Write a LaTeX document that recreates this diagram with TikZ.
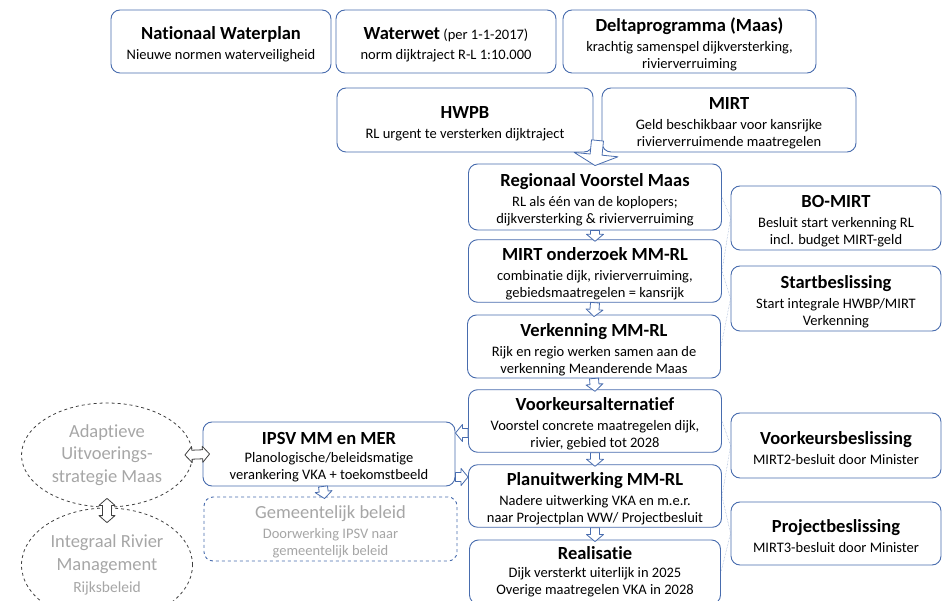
\documentclass[tikz,border=0pt]{standalone}
\usepackage{fontspec}
\setmainfont{Carlito}[Ligatures={TeX,NoCommon}]
\usetikzlibrary{shapes.geometric,calc}
\definecolor{blauw}{RGB}{72,108,174}
\definecolor{grijs}{RGB}{166,166,166}
\definecolor{donker}{RGB}{64,64,64}
\newcommand\titel{\bfseries\fontsize{18.5}{20}\selectfont\rule{0pt}{19pt}}
\newcommand\kop{\fontsize{18.5}{20}\selectfont\rule{0pt}{19pt}}

\tikzset{
	pijl/.style n args={3}{draw=blauw, fill=white, line width=0.8pt, to path={
		let \p1=(\tikztostart), \p2=(\tikztotarget), \p3=($(\p2)!#3!(\p1)$) in
		($(\p1)!#1!90:(\p2)$) -- ($(\p3)!#1!90:(\p2)$) -- ($(\p3)!#2!90:(\p2)$) -- (\p2)
		-- ($(\p3)!#2!-90:(\p2)$) -- ($(\p3)!#1!-90:(\p2)$) -- ($(\p1)!#1!-90:(\p2)$) -- cycle}},
	dubbelpijl/.style n args={3}{draw=blauw, fill=white, line width=0.8pt, to path={
		let \p1=(\tikztostart), \p2=(\tikztotarget), \p3=($(\p1)!#3!(\p2)$), \p4=($(\p2)!#3!(\p1)$) in
		(\p1) -- ($(\p3)!#2!90:(\p2)$) -- ($(\p3)!#1!90:(\p2)$) -- ($(\p4)!#1!90:(\p2)$)
		-- ($(\p4)!#2!90:(\p2)$) -- (\p2) -- ($(\p4)!#2!-90:(\p2)$) -- ($(\p4)!#1!-90:(\p2)$)
		-- ($(\p3)!#1!-90:(\p2)$) -- ($(\p3)!#2!-90:(\p2)$) -- cycle}},
	blok/.style={pijl={4.5pt}{8.5pt}{7pt}},
	blokgroot/.style={pijl={6pt}{22pt}{11pt}},
}

\begin{document}
\begin{tikzpicture}[x=1pt,y=-1pt,line join=round,
	vak/.style={draw=blauw, rounded corners=9pt, line width=0.9pt, fill=white, align=center,
		inner sep=2pt, font=\fontsize{14.5}{17}\selectfont},
	grijsvak/.style={vak, dashed, text=grijs},
	ovaal/.style={ellipse, draw=donker, dashed, line width=0.8pt, align=center, text=grijs,
		minimum width=171pt, minimum height=104pt, inner sep=0pt, font=\fontsize{18.5}{22.5}\selectfont},
	tweezijdig/.style={dubbelpijl={4.5pt}{8pt}{7pt}, draw=donker},
	stip/.style={draw=blauw!60, densely dotted, line width=0.5pt}]
	\useasboundingbox (0,0) rectangle (948,601);
	\clip (0,0) rectangle (948,601);
	% bovenste rij
	\node[vak, minimum width=220pt, minimum height=63pt] (nwp) at (221,41.5)
		{{\titel Nationaal Waterplan}\\[3pt] Nieuwe normen waterveiligheid};
	\node[vak, minimum width=220pt, minimum height=63pt] (ww) at (446,41.5)
		{{\titel Waterwet} (per 1-1-2017)\\[3pt] norm dijktraject R-L 1:10.000};
	\node[vak, minimum width=253pt, minimum height=63pt] (dp) at (689.5,41.5)
		{{\titel Deltaprogramma (Maas)}\\[3pt] krachtig samenspel dijkversterking,\\ rivierverruiming};
	\node[vak, minimum width=256pt, minimum height=64pt] (hwpb) at (465,120)
		{{\titel HWPB}\\[3pt] RL urgent te versterken dijktraject};
	\node[vak, minimum width=254pt, minimum height=64pt] (mirt) at (729,120)
		{{\titel MIRT}\\[3pt] Geld beschikbaar voor kansrijke\\ rivierverruimende maatregelen};
	% middelste kolom
	\node[vak, minimum width=253pt, minimum height=66pt] (rvm) at (595,197)
		{{\titel Regionaal Voorstel Maas}\\[3pt] RL als één van de koplopers;\\ dijkversterking \& rivierverruiming};
	\node[vak, minimum width=253pt, minimum height=62pt] (mo) at (595,271)
		{{\titel MIRT onderzoek MM-RL}\\[3pt] combinatie dijk, rivierverruiming,\\ gebiedsmaatregelen = kansrijk};
	\node[vak, minimum width=253pt, minimum height=63pt] (verk) at (594,346.5)
		{{\titel Verkenning MM-RL}\\[3pt] Rijk en regio werken samen aan de\\ verkenning Meanderende Maas};
	\node[vak, minimum width=253pt, minimum height=62pt] (vka) at (595,421)
		{{\titel Voorkeursalternatief}\\[3pt] Voorstel concrete maatregelen dijk,\\ rivier, gebied tot 2028};
	\node[vak, minimum width=253pt, minimum height=62pt] (pu) at (595,496)
		{{\titel Planuitwerking MM-RL}\\[3pt] Nadere uitwerking VKA en m.e.r.\\ naar Projectplan WW/ Projectbesluit};
	\node[vak, minimum width=251pt, minimum height=64pt] (real) at (595,572)
		{{\bfseries\fontsize{18.5}{20}\selectfont Realisatie}\\[1pt] Dijk versterkt uiterlijk in 2025\\ Overige maatregelen VKA in 2028};
	% rechter kolom
	\node[vak, minimum width=210pt, minimum height=64pt] (bo) at (836,218)
		{{\titel BO-MIRT}\\[3pt] Besluit start verkenning RL\\ incl. budget MIRT-geld};
	\node[vak, minimum width=210pt, minimum height=65pt] (sb) at (836,298.5)
		{{\titel Startbeslissing}\\[3pt] Start integrale HWBP/MIRT\\ Verkenning};
	\node[vak, minimum width=210pt, minimum height=65pt] (vb) at (836,445.5)
		{{\titel Voorkeursbeslissing}\\[3pt] MIRT2-besluit door Minister};
	\node[vak, minimum width=210pt, minimum height=63pt] (pb) at (836,533.5)
		{{\titel Projectbeslissing}\\[3pt] MIRT3-besluit door Minister};
	% linker deel
	\node[vak, minimum width=252pt, minimum height=64pt] (ipsv) at (329,454)
		{{\titel IPSV MM en MER}\\[1pt] Planologische/beleidsmatige\\ verankering VKA + toekomstbeeld};
	\node[grijsvak, minimum width=253pt, minimum height=64pt] (gem) at (330.5,529)
		{{\kop Gemeentelijk beleid}\\[3pt] Doorwerking IPSV naar\\ gemeentelijk beleid};
	\node[ovaal] (aus) at (107,455) {Adaptieve\\ Uitvoerings-\\ strategie Maas};
	\node[ovaal, minimum height=114pt] (irm) at (107,565)
		{Integraal Rivier\\ Management\\ {\fontsize{15.5}{18}\selectfont Rijksbeleid}};
	% pijlen
	\coordinate (samen) at ($(hwpb.south east)!0.5!(mirt.south west)+(0,-12)$);
	\draw[blokgroot] (samen) to ([yshift=-2pt]rvm.north);
	\draw[blok] (rvm.south) to ([yshift=-2pt]mo.north);
	\draw[blok] (mo.south) to ([yshift=-2pt]verk.north);
	\draw[blok] (verk.south) to ([yshift=-2pt]vka.north);
	\draw[blok] (vka.south) to ([yshift=-2pt]pu.north);
	\draw[blok] (pu.south) to ([yshift=-2pt]real.north);
	\draw[blok] ([yshift=-12pt]vka.west) to ([yshift=-12pt]vka.west -| ipsv.east);
	\draw[blok] ([yshift=-23pt]ipsv.east) to ([yshift=-23pt]ipsv.east -| pu.west);
	\draw[blok] ([xshift=-6pt]ipsv.south) to ([xshift=-6pt,yshift=-2pt]gem.north);
	\draw[tweezijdig] ([xshift=-8pt]aus.east) to ([xshift=7pt]ipsv.west);
	\draw[tweezijdig] ([yshift=9pt]aus.south) to ([yshift=-15pt]irm.north);
	% stippellijnen naar de besluiten
	\draw[stip] (rvm.east) -- (bo.west) -- (mo.east);
	\draw[stip] (mo.east) -- (sb.west) -- (verk.east);
	\draw[stip] (vka.east) -- (vb.west) -- (pu.east);
	\draw[stip] (pu.east) -- (pb.west) -- (real.east);
\end{tikzpicture}
\end{document}
